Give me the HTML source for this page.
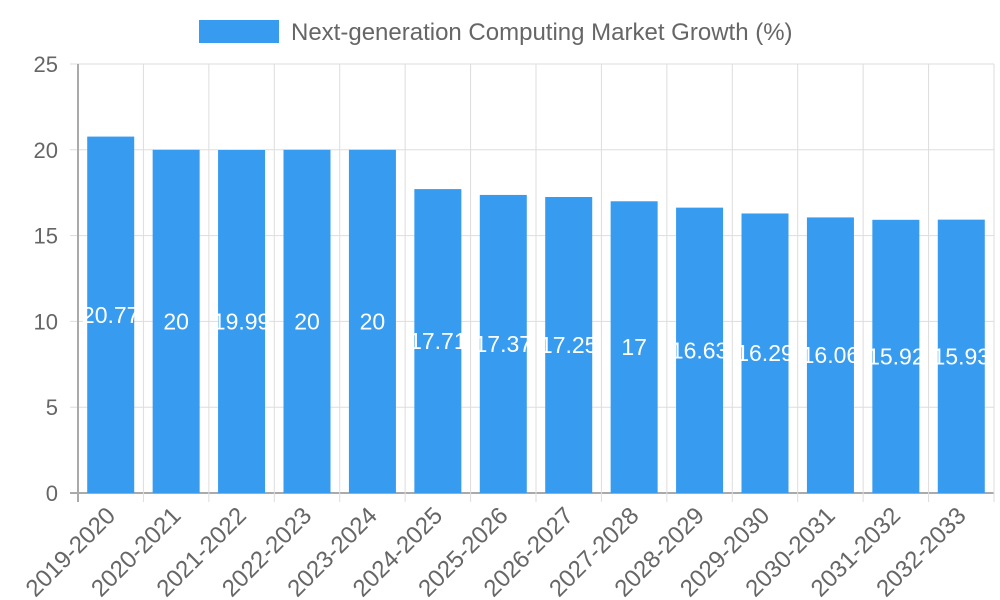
<!DOCTYPE html>
<html><head><meta charset="utf-8"><style>
body{margin:0;background:#fff;}
svg{display:block;font-family:"Liberation Sans",sans-serif;}
</style></head><body>
<svg id="chart" width="1000" height="600">
<g>
<rect x="199" y="20" width="80" height="23" fill="#379bf0"></rect>
<text x="291" y="40" font-size="24" fill="#666">Next-generation Computing Market Growth (%)</text>
</g>
<g id="grid"></g><g id="bars"></g><g id="axes"></g>
</svg>
<script>
const categories=["2019-2020","2020-2021","2021-2022","2022-2023","2023-2024","2024-2025","2025-2026","2026-2027","2027-2028","2028-2029","2029-2030","2030-2031","2031-2032","2032-2033"];
const values=[20.77,20,19.99,20,20,17.71,17.37,17.25,17,16.63,16.29,16.06,15.92,15.93];
const yTicks=[0,5,10,15,20,25];
const NS="http://www.w3.org/2000/svg";
const L=78,R=994,T=64,B=493,yMax=25;
const bw=(R-L)/categories.length;
const y=v=>B-(v/yMax)*(B-T);
const x=i=>L+i*bw;
function mk(tag,attrs,parent,txt){const e=document.createElementNS(NS,tag);for(const k in attrs)e.setAttribute(k,attrs[k]);if(txt!==undefined)e.textContent=txt;parent.appendChild(e);return e;}
const grid=document.getElementById('grid'),bars=document.getElementById('bars'),axes=document.getElementById('axes');
yTicks.forEach(t=>{
  const ln=mk('line',{x1:L-8,x2:R,y1:y(t),y2:y(t),stroke:t===0?'#aaa':'#ddd','stroke-width':t===0?2:1},grid);
  
  
  const tx=mk('text',{x:L-20,y:y(t)+8,'text-anchor':'end','font-size':22,fill:'#666'},axes,String(t));
  
  
});
for(let i=0;i<=categories.length;i++){
  const ln=mk('line',{x1:x(i),x2:x(i),y1:T,y2:B+9,stroke:i===0?'#aaa':'#ddd','stroke-width':i===0?2:1},grid);
  
  
}
categories.forEach((c,i)=>{
  const cx=x(i)+bw/2,w=47;
  const r=mk('rect',{x:cx-w/2,y:y(values[i]),width:w,height:B-y(values[i]),fill:'#379bf0'},bars);
  
  
  const lv=mk('text',{x:cx,y:(y(values[i])+B)/2+8,'text-anchor':'middle','font-size':23,fill:'#fff'},bars,String(values[i]));
  
  
  const ax=cx+6,ay=B+24;
  const xl=mk('text',{x:ax,y:ay,'text-anchor':'end','font-size':24,fill:'#666',transform:`rotate(-45 ${ax} ${ay})`},axes,c);
  
  
});
</script>
</body></html>
